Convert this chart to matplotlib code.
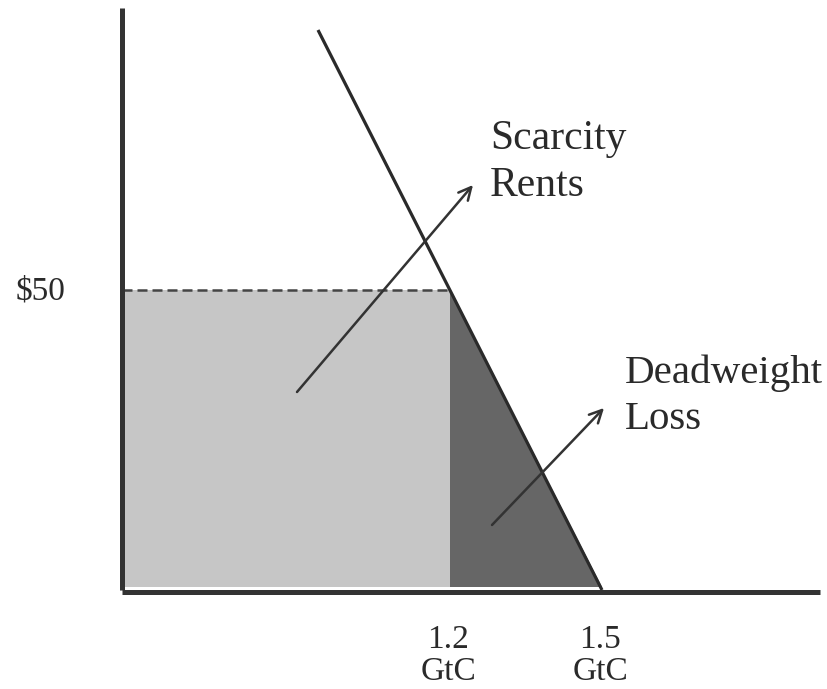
import matplotlib
matplotlib.use('Agg')
import matplotlib.pyplot as plt
from matplotlib.patches import Polygon, Rectangle

# Schematic units (the original sketch is not drawn to scale)
axis_x_end = 6.98
axis_y_end = 5.82

demand_q = [1.96, 4.80]
demand_p = [5.60, 0.0]

cap_price = 3.0
cap_price_label = '$50'

quantity_ticks = [3.28, 4.80]
quantity_values = ['1.2', '1.5']
quantity_unit = 'GtC'

rent_arrow = [(1.75, 1.98), (3.51, 4.05)]
dwl_arrow = [(3.70, 0.65), (4.82, 1.82)]

rent_label = 'Scarcity\nRents'
dwl_label = 'Deadweight\nLoss'


def demand_q_at(p):
    (q0, q1), (p0, p1) = demand_q, demand_p
    return q0 + (p - p0) * (q1 - q0) / (p1 - p0)


def main():
    plt.rcParams['font.family'] = ['Liberation Serif', 'DejaVu Serif']

    fig = plt.figure(figsize=(8.28, 6.89), dpi=100)
    ax = fig.add_axes([0, 0, 1, 1])
    ax.set_xlim(-1.22, 7.06)
    ax.set_ylim(-0.99, 5.90)
    ax.axis('off')

    q_cap = demand_q_at(cap_price)
    q_free = demand_q_at(0.0)

    # Scarcity rents rectangle
    ax.add_patch(Rectangle((0, 0.03), q_cap, cap_price - 0.03,
                           facecolor='#c6c6c6', edgecolor='none', zorder=1))
    # Deadweight loss triangle
    ax.add_patch(Polygon([(q_cap, cap_price), (q_cap, 0.03), (q_free, 0.03)],
                         closed=True, facecolor='#666666', edgecolor='none', zorder=1))

    # dashed price line
    ax.plot([0, q_cap], [cap_price, cap_price], color='#444444', lw=1.8,
            linestyle=(0, (4, 2)), zorder=2)

    # demand curve
    ax.plot(demand_q, demand_p, color='#2a2a2a', lw=2.3, solid_capstyle='butt', zorder=3)

    # axes
    ax.plot([0, 0], [0, axis_y_end], color='#333333', lw=3.6, solid_capstyle='butt', zorder=4)
    ax.plot([0, axis_x_end], [-0.02, -0.02], color='#333333', lw=3.6,
            solid_capstyle='butt', zorder=4)

    # arrows
    for (start, end) in (rent_arrow, dwl_arrow):
        ax.annotate('', xy=end, xytext=start,
                    arrowprops=dict(arrowstyle='->,head_length=0.9,head_width=0.45',
                                    color='#333333', lw=1.8, shrinkA=0, shrinkB=0),
                    zorder=5)

    ax.text(3.68, 4.71, rent_label, fontsize=30, color='#2a2a2a',
            ha='left', va='top', linespacing=1.3)
    ax.text(5.03, 2.35, dwl_label, fontsize=29.5, color='#2a2a2a',
            ha='left', va='top', linespacing=1.3)

    ax.text(-0.57, 2.90, cap_price_label, fontsize=24, color='#2a2a2a',
            ha='right', va='baseline')

    for q, val in zip(quantity_ticks, quantity_values):
        ax.text(q - 0.02, -0.58, val, fontsize=24, color='#2a2a2a',
                ha='center', va='baseline')
        ax.text(q - 0.02, -0.905, quantity_unit, fontsize=24, color='#2a2a2a',
                ha='center', va='baseline')

    fig.savefig('out.png', dpi=100)


if __name__ == '__main__':
    main()
